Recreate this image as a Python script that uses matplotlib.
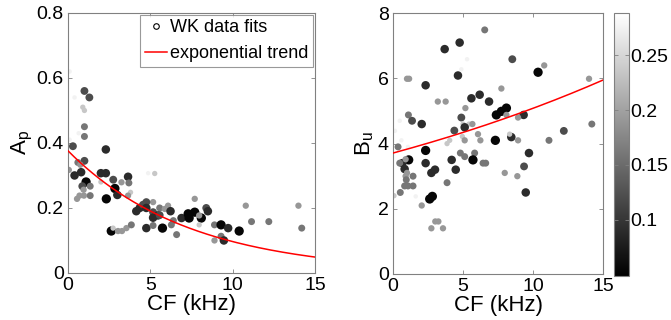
import numpy as np
import matplotlib
matplotlib.use('Agg')
import matplotlib.pyplot as plt
from matplotlib.lines import Line2D
from matplotlib.ticker import FuncFormatter

plt.rcParams['font.family'] = ['Liberation Sans', 'DejaVu Sans']
plt.rcParams['mathtext.fontset'] = 'custom'
plt.rcParams['mathtext.rm'] = 'Liberation Sans'
plt.rcParams['mathtext.it'] = 'Liberation Sans'

# colour shades (value on the colour bar)
K, D, M, G, L, V, W = 0.055, 0.09, 0.12, 0.16, 0.19, 0.235, 0.275

# left panel: CF (kHz), A_p, colour value
cf_a = [0.1, 0.4, 1.0, 1.3, 0.9, 1.0, 1.0, 1.0, 0.65, 0.1, 0.3, 2.3, 1.0, 0.6, 0.75,
        0.05, 0.4, 0.8, 2.0, 2.3, 2.0, 1.1, 0.87, 1.35, 0.95, 2.75, 2.85, 3.0, 3.65, 3.7,
        3.25, 3.8, 3.65, 0.55, 0.7, 1.35, 0.97, 2.33, 4.87, 5.27, 7.7, 5.17, 4.15, 4.36,
        4.56, 4.76, 4.76, 6.08, 5.57, 5.88, 5.17, 5.17, 5.47, 6.23, 5.57, 6.4, 6.9, 7.3,
        7.36, 7.7, 8.1, 7.97, 8.4, 8.5, 4.76, 5.74, 6.28, 6.6, 5.17, 2.63, 2.74, 3.04,
        3.28, 3.55, 3.85, 7.97, 8.9, 9.3, 9.73, 9.3, 9.47, 8.9, 10.4, 10.8, 11.15, 12.2,
        14.0, 14.2]
ap = [0.62, 0.54, 0.56, 0.54, 0.51, 0.50, 0.45, 0.42, 0.43, 0.41, 0.39, 0.38, 0.345, 0.34, 0.333,
      0.317, 0.30, 0.31, 0.307, 0.307, 0.28, 0.28, 0.267, 0.267, 0.256, 0.287, 0.26, 0.24, 0.296, 0.277,
      0.279, 0.248, 0.238, 0.228, 0.238, 0.238, 0.238, 0.228, 0.307, 0.306, 0.228, 0.218, 0.19, 0.20,
      0.21, 0.218, 0.20, 0.207, 0.20, 0.197, 0.187, 0.17, 0.177, 0.19, 0.178, 0.161, 0.169, 0.182,
      0.169, 0.187, 0.169, 0.177, 0.20, 0.19, 0.138, 0.138, 0.148, 0.118, 0.146, 0.129, 0.138, 0.129,
      0.129, 0.138, 0.148, 0.148, 0.148, 0.148, 0.138, 0.113, 0.10, 0.10, 0.129, 0.207, 0.158, 0.158,
      0.207, 0.138]
val_a = [W, W, M, M, V, V, G, G, W, W, M, D, M, G, L,
         L, D, D, D, D, V, K, M, G, L, M, K, D, D, G,
         L, V, L, L, L, G, L, K, W, V, L, L, D, D,
         M, M, D, L, G, L, M, D, D, D, M, G, D, K,
         K, K, K, L, M, D, D, K, G, G, G, K, V, L,
         L, L, G, V, G, K, D, G, D, L, K, L, G, G,
         L, G]

# right panel: CF (kHz), B_u, colour value
cf_b = [6.55, 4.76, 3.69, 5.29, 8.52, 10.8, 10.36, 14.0, 1.0, 1.15, 4.64, 4.88, 2.33, 7.74,
        3.2, 3.76, 5.6, 6.19, 6.86, 5.17, 8.1, 7.74, 7.38, 8.1, 9.33, 8.93, 1.1, 0.48, 1.36,
        2.05, 4.88, 5.0, 5.43, 5.67, 0.14, 4.38, 5.12, 6.07, 4.95, 5.12, 6.24, 7.31, 8.45,
        8.33, 8.93, 11.14, 12.2, 14.2, 4.05, 3.86, 0.6, 0.36, 1.07, 2.33, 4.81, 5.12, 5.83,
        9.71, 4.19, 5.71, 6.43, 6.62, 1.12, 0.67, 0.48, 0.9, 2.33, 9.36, 0.83, 4.48, 3.0,
        2.74, 7.98, 8.88, 1.0, 0.9, 1.43, 0.95, 0.83, 1.07, 1.43, 3.86, 0.52, 0.07, 1.62,
        2.81, 2.62, 9.48, 2.05, 3.02, 3.24, 2.74, 3.57]
bu = [7.49, 7.1, 6.9, 6.59, 6.59, 6.4, 6.19, 5.99, 5.99, 5.99, 6.09, 6.28, 5.79, 5.69,
      5.29, 5.29, 5.39, 5.5, 5.29, 5.09, 5.09, 4.99, 4.88, 4.88, 4.88, 4.8, 4.88, 4.7, 4.7,
      4.6, 4.8, 4.6, 4.6, 4.6, 4.39, 4.4, 4.5, 4.29, 4.22, 4.1, 4.1, 4.1, 4.2,
      4.29, 4.1, 4.1, 4.39, 4.6, 4.1, 4.0, 4.1, 3.9, 3.9, 3.79, 3.71, 3.6, 3.71,
      3.71, 3.5, 3.5, 3.4, 3.4, 3.5, 3.4, 3.4, 3.52, 3.4, 3.3, 3.22, 3.2, 3.2,
      3.1, 3.1, 3.0, 3.1, 3.0, 3.0, 2.89, 2.7, 2.7, 2.7, 2.8, 2.5, 2.4, 2.38,
      2.38, 2.3, 2.5, 2.1, 1.61, 1.61, 1.4, 1.4]
val_b = [G, D, D, W, M, L, K, L, L, L, D, W, D, L,
         L, L, D, D, D, L, K, K, K, L, D, L, G, W, M,
         D, M, V, V, L, W, M, D, L, V, L, L, K, D,
         V, L, G, M, G, V, V, W, G, W, K, G, G, G,
         D, D, K, G, G, K, D, G, L, D, M, D, D, D,
         D, L, L, L, L, G, G, G, G, G, G, G, V, W,
         K, K, D, L, L, L, L, L]

# exponential trend parameters y = a*exp(b*CF)
trend_a = (0.376, -0.1359)
trend_b = (3.71, 0.0315)

vmin, vmax = 0.049, 0.288


def sizes(v):
    d = 10.5 - 22 * np.asarray(v)  # marker diameter in px
    return (d * 0.72) ** 2


def style(ax):
    for s in ax.spines.values():
        s.set_color('#808080')
        s.set_linewidth(0.8)
    ax.tick_params(direction='in', length=3, width=0.6, color='#808080',
                   top=True, right=True, labelsize=14, labelcolor='black', pad=3)


fig = plt.figure(figsize=(6.71, 3.2), dpi=100)
ax1 = fig.add_axes([0.1013, 0.147, 0.368, 0.8125])
ax2 = fig.add_axes([0.5857, 0.144, 0.313, 0.8145])
cax = fig.add_axes([0.915, 0.1375, 0.0224, 0.821])

x = np.linspace(0, 15, 200)

ax1.scatter(cf_a, ap, s=sizes(val_a), c=val_a, cmap='gray', vmin=vmin, vmax=vmax,
            edgecolors='none', zorder=2)
ax1.plot(x, trend_a[0] * np.exp(trend_a[1] * x), color='red', lw=1.1, zorder=3)
ax1.set_xlim(0, 15)
ax1.set_ylim(0, 0.8)
ax1.set_xticks([0, 5, 10, 15])
ax1.set_yticks([0, 0.2, 0.4, 0.6, 0.8])
ax1.yaxis.set_major_formatter(FuncFormatter(lambda v, p: '0' if v == 0 else f'{v:g}'))
ax1.set_xlabel('CF (kHz)', fontsize=16, labelpad=0)
ax1.set_ylabel(r'A$_\mathrm{p}$', fontsize=16, labelpad=1)
style(ax1)

handles = [Line2D([], [], marker='o', ls='none', mfc='none', mec='black', ms=4, mew=0.8),
           Line2D([], [], color='red', lw=1.1)]
leg = ax1.legend(handles, ['WK data fits', 'exponential trend'], loc='upper right',
                 fontsize=13, frameon=True, fancybox=False, handlelength=1.2,
                 handletextpad=0.2, borderpad=0.25, labelspacing=0.5,
                 borderaxespad=0.1)
leg.get_frame().set_edgecolor('#808080')
leg.get_frame().set_linewidth(0.8)

sc = ax2.scatter(cf_b, bu, s=sizes(val_b), c=val_b, cmap='gray', vmin=vmin, vmax=vmax,
                 edgecolors='none', zorder=2)
ax2.plot(x, trend_b[0] * np.exp(trend_b[1] * x), color='red', lw=1.1, zorder=3)
ax2.set_xlim(0, 15)
ax2.set_ylim(0, 8)
ax2.set_xticks([0, 5, 10, 15])
ax2.set_yticks([0, 2, 4, 6, 8])
ax2.set_xlabel('CF (kHz)', fontsize=16, labelpad=0)
ax2.set_ylabel(r'B$_\mathrm{u}$', fontsize=16, labelpad=1)
style(ax2)

cb = fig.colorbar(sc, cax=cax)
cb.set_ticks([0.1, 0.15, 0.2, 0.25])
cb.ax.yaxis.set_major_formatter(FuncFormatter(lambda v, p: f'{v:g}'))
cb.outline.set_edgecolor('#808080')
cb.outline.set_linewidth(0.8)
cb.ax.tick_params(direction='in', length=3, width=0.6, color='#808080',
                  left=True, right=True, labelsize=14, pad=1)

fig.savefig('out.png', dpi=100)
